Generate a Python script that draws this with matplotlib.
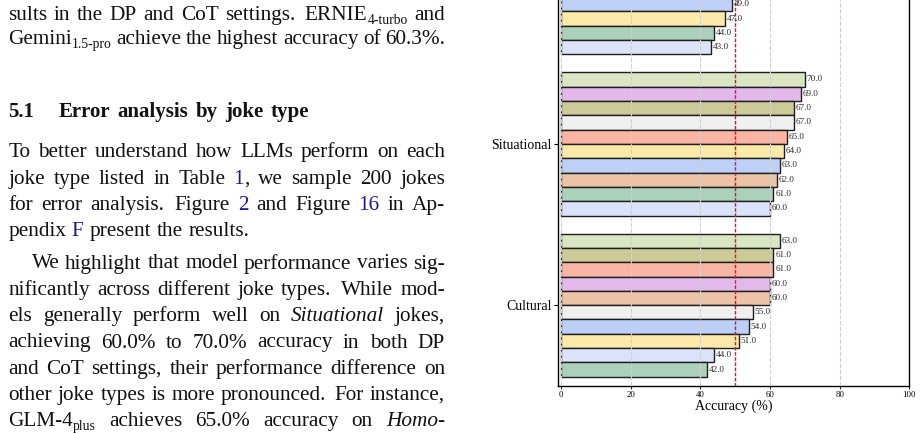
import re
import matplotlib
matplotlib.use("Agg")
import matplotlib.pyplot as plt

W, H, DPI = 922, 433, 100
SERIF = "Liberation Serif"

# ---------------- chart data ----------------
models = ["Model A", "Model B", "Model C", "Model D", "Model E",
          "Model F", "Model G", "Model H", "Model I", "Model J"]
model_colors = ["#d8e6c2", "#e2b9ea", "#cccb98", "#f0f0f0", "#fbb5a5",
                "#fde9a9", "#bfd0f8", "#ecc3a5", "#acd1bb", "#dbe3fa"]
joke_types = ["", "Situational", "Cultural"]
# values per model (A..J); None = not visible in the cropped figure
acc_upper = [None, None, None, None, None, 47.0, 49.0, None, 44.0, 43.0]
acc_situational = [70.0, 69.0, 67.0, 67.0, 65.0, 64.0, 63.0, 62.0, 61.0, 60.0]
acc_cultural = [63.0, 60.0, 61.0, 55.0, 61.0, 51.0, 54.0, 60.0, 42.0, 44.0]
group_values = [acc_upper, acc_situational, acc_cultural]
x_ticks = [0, 20, 40, 60, 80, 100]
ref_line = 50

# ---------------- paper text ----------------
# (baseline y px, left x px, right x px or None for natural spacing, text)
body_lines = [
    (20.0, 8.3, 445.0, "sults in the DP and CoT settings. ERNIE_{4-turbo} and"),
    (44.3, 8.3, None, "Gemini_{1.5-pro} achieve the highest accuracy of 60.3%."),
    (157.3, 8.3, 445.0, "To better understand how LLMs perform on each"),
    (183.5, 8.3, 445.0, "joke type listed in Table [1], we sample 200 jokes"),
    (209.7, 8.3, 445.0, "for error analysis. Figure [2] and Figure [16] in Ap-"),
    (236.0, 8.3, 249.0, "pendix [F] present the results."),
    (268.5, 31.7, 445.0, "We highlight that model performance varies sig-"),
    (295.0, 8.3, 445.0, "nificantly across different joke types. While mod-"),
    (321.3, 8.3, 445.0, "els generally perform well on *Situational* jokes,"),
    (347.5, 8.3, 445.0, "achieving 60.0% to 70.0% accuracy in both DP"),
    (373.8, 8.3, 445.0, "and CoT settings, their performance difference on"),
    (400.0, 8.3, 445.0, "other joke types is more pronounced. For instance,"),
    (426.3, 8.3, 445.0, "GLM-4_{plus} achieves 65.0% accuracy on *Homo-*"),
]
heading_number = "5.1"
heading_text = "Error analysis by joke type"

FS = 15.3
FS_HEAD = 15.0
SUB_SCALE = 0.64
LINK = "#1c1c8f"

fig = plt.figure(figsize=(W / DPI, H / DPI), dpi=DPI)
renderer = fig.canvas.get_renderer()

TOKEN = re.compile(r'_\{([^}]*)\}|\*([^*]*)\*|\[([^\]]*)\]|([^_\*\[]+)')


def parse_word(word):
    segs = []
    for m in TOKEN.finditer(word):
        sub, ital, link, plain = m.groups()
        if sub is not None:
            segs.append((sub, "sub"))
        elif ital is not None:
            segs.append((ital, "ital"))
        elif link is not None:
            segs.append((link, "link"))
        else:
            segs.append((plain, "plain"))
    return segs


def seg_props(kind, bold, fs):
    p = dict(family=SERIF, fontsize=fs, color="#111111",
             weight="bold" if bold else "normal", style="normal")
    if kind == "sub":
        p["fontsize"] = fs * SUB_SCALE
    if kind == "ital":
        p["style"] = "italic"
    if kind == "link":
        p["color"] = LINK
    return p


def seg_width(s, kind, bold, fs):
    t = fig.text(0, 0, s, **seg_props(kind, bold, fs))
    w = t.get_window_extent(renderer).width
    t.remove()
    return w


def draw_line(y, x0, x1, text, bold=False, fs=FS, space_em=0.22):
    fs_px = fs * DPI / 72.0
    words = text.split()
    parsed = [parse_word(w) for w in words]
    widths = [[seg_width(s, k, bold, fs) for s, k in segs] for segs in parsed]
    word_w = [sum(ws) for ws in widths]
    weights = [1.4 if w.endswith(".") else 1.0 for w in words[:-1]]
    if x1 is not None and weights:
        unit = (x1 - x0 - sum(word_w)) / sum(weights)
    else:
        unit = space_em * fs_px
        weights = [1.0] * len(weights)
    x = x0
    for i, segs in enumerate(parsed):
        for (s, k), w in zip(segs, widths[i]):
            dy = 3.5 if k == "sub" else 0.0
            fig.text(x / W, 1 - (y + dy) / H, s, va="baseline", ha="left",
                     **seg_props(k, bold, fs))
            x += w
        if i < len(weights):
            x += unit * weights[i]


for (y, x0, x1, txt) in body_lines:
    draw_line(y, x0, x1, txt)
draw_line(117.3, 8.3, None, heading_number, bold=True, fs=FS_HEAD, space_em=0.3)
draw_line(117.3, 58.3, None, heading_text, bold=True, fs=FS_HEAD, space_em=0.36)

# ---------------- chart ----------------
UNIT_PX = 14.33
n_models = len(models)
group_gap = 1.25
y_top = -1.12
y_bot = (len(joke_types) - 1) * (n_models + group_gap) + n_models - 1 + 1.12
ax_h_px = (y_bot - y_top) * UNIT_PX
ax_left, ax_right, ax_bottom = 557.7, 909.3, 385.7
ax = fig.add_axes([ax_left / W, (H - ax_bottom) / H,
                   (ax_right - ax_left) / W, ax_h_px / H])

group_centers = []
for g, vals in enumerate(group_values):
    start = g * (n_models + group_gap)
    order = sorted(range(n_models),
                   key=lambda i: -(vals[i] if vals[i] is not None else 1e9))
    for slot, mi in enumerate(order):
        v = vals[mi]
        if v is None:
            continue
        ypos = start + slot
        ax.barh(ypos, v, height=1.0, color=model_colors[mi],
                edgecolor="#1e1e1e", linewidth=1.0, zorder=1)
        ax.annotate(f"{v:.1f}", (v, ypos), xytext=(1.2, 0),
                    textcoords="offset points", va="center", ha="left",
                    fontsize=6.6, family=SERIF, color="#2a2a2a", zorder=4)
    group_centers.append(start + (n_models - 1) / 2)

ax.set_xlim(-0.95, 100)
ax.set_ylim(y_bot, y_top)
ax.set_axisbelow(False)
ax.xaxis.grid(True, color="#cfcfcf", linestyle=(0, (4, 1.5)), linewidth=0.8, zorder=2)
ax.axvline(ref_line, color="#e0141e", linestyle=(0, (2.5, 1.2)), linewidth=1.0, zorder=3)

ax.set_xticks(x_ticks)
ax.set_xticklabels([str(t) for t in x_ticks], family=SERIF, fontsize=6.3)
ax.tick_params(axis="x", length=2, pad=1.5, width=0.6)
ax.set_yticks(group_centers)
ax.set_yticklabels(joke_types, family=SERIF, fontsize=10)
ax.tick_params(axis="y", length=3, pad=1.5, width=0.8)
ax.set_xlabel("Accuracy (%)", family=SERIF, fontsize=10, labelpad=0.5)
for sp in ax.spines.values():
    sp.set_color("black")
    sp.set_linewidth(1.0)

fig.savefig("out.png", dpi=DPI)
